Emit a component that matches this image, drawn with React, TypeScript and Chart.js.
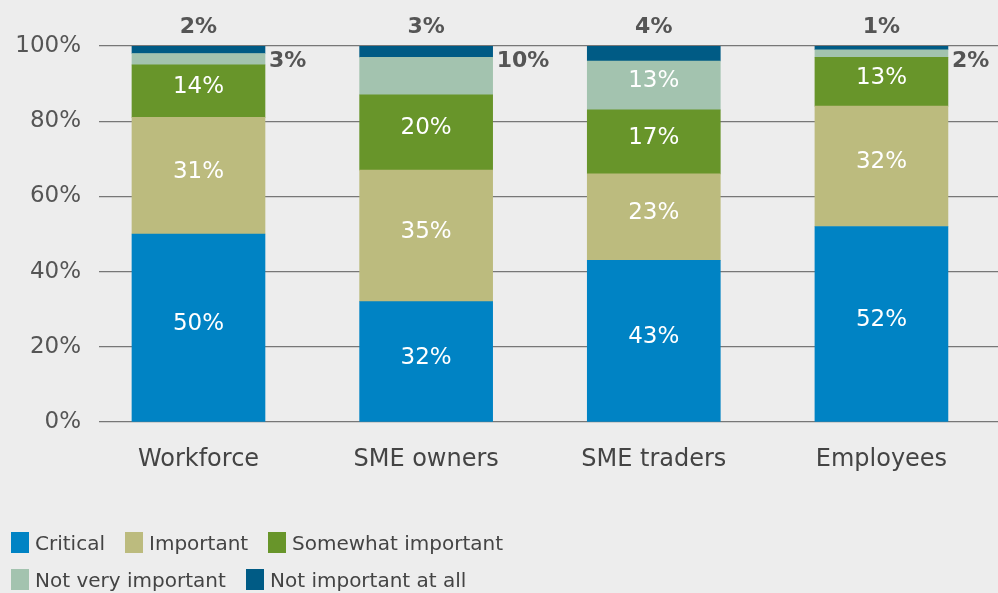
import React, { useEffect, useRef } from "react";
import { Chart, registerables } from "chart.js";

Chart.register(...registerables);

const categories = ["Workforce", "SME owners", "SME traders", "Employees"];
const seriesNames = [
  "Critical",
  "Important",
  "Somewhat important",
  "Not very important",
  "Not important at all",
];
const critical = [50, 32, 43, 52];
const important = [31, 35, 23, 32];
const somewhat = [14, 20, 17, 13];
const notVery = [3, 10, 13, 2];
const notAtAll = [2, 3, 4, 1];
const yTicks = [0, 20, 40, 60, 80, 100];

const series = [critical, important, somewhat, notVery, notAtAll];
const colors = ["#0083c4", "#bcbb7e", "#68952a", "#a3c3af", "#005b85"];
const FONT = "'DejaVu Sans', sans-serif";
const GRAY = "#555555";

const labelPlugin = {
  id: "segLabels",
  afterDatasetsDraw(chart: any) {
    const ctx = chart.ctx;
    const yScale = chart.scales.y;
    ctx.save();
    chart.data.datasets.forEach((_ds: any, di: number) => {
      const meta = chart.getDatasetMeta(di);
      meta.data.forEach((bar: any, i: number) => {
        const v = series[di][i];
        const p = bar.getProps(["x", "y", "base", "width"], true);
        const text = v + "%";
        let mode = "inside";
        if (di === 4) mode = "top";
        else if (di === 3 && v <= 10) mode = "right";
        ctx.textBaseline = "middle";
        if (mode === "inside") {
          ctx.fillStyle = "#ffffff";
          ctx.font = `normal 23px ${FONT}`;
          ctx.textAlign = "center";
          ctx.fillText(text, p.x, (p.y + p.base) / 2 - 4);
        } else if (mode === "right") {
          ctx.fillStyle = GRAY;
          ctx.font = `bold 22px ${FONT}`;
          ctx.textAlign = "left";
          ctx.fillText(text, p.x + p.width / 2 + 4, yScale.getPixelForValue(96));
        } else {
          ctx.fillStyle = GRAY;
          ctx.font = `bold 22px ${FONT}`;
          ctx.textAlign = "center";
          ctx.fillText(text, p.x, p.y - 19);
        }
      });
    });
    ctx.restore();
  },
};

const legendPos = [
  [11, 0],
  [125, 0],
  [268, 0],
  [11, 1],
  [246, 1],
];

export default function App() {
  const ref = useRef<HTMLCanvasElement | null>(null);

  useEffect(() => {
    document.body.style.margin = "0";
    document.body.style.background = "#ededed";
    if (!ref.current) return;
    const chart = new Chart(ref.current, {
      type: "bar",
      data: {
        datasets: series.map((vals, di) => ({
          label: seriesNames[di],
          data: vals.map((v, i) => ({ x: i, y: v })),
          backgroundColor: colors[di],
          borderWidth: 0,
          barThickness: 133,
        })),
      },
      options: {
        animation: false,
        responsive: false,
        maintainAspectRatio: false,
        layout: { padding: { top: 46, bottom: 111, left: 0, right: 0 } },
        plugins: {
          legend: { display: false },
          tooltip: { enabled: false },
        },
        scales: {
          x: {
            type: "linear",
            stacked: true,
            offset: false,
            min: -0.437,
            max: 3.512,
            grid: { display: false },
            border: { display: false },
            afterFit: (s: any) => {
              s.height = 60;
            },
            ticks: {
              stepSize: 1,
              includeBounds: false,
              autoSkip: false,
              maxRotation: 0,
              padding: 15,
              color: "#444444",
              font: { family: FONT, size: 24 },
              callback: (v: any) =>
                Number.isInteger(v) && categories[v] ? categories[v] : "",
            },
          },
          y: {
            stacked: true,
            min: 0,
            max: 100,
            afterFit: (s: any) => {
              s.width = 99;
            },
            afterBuildTicks: (s: any) => {
              s.ticks = yTicks.map((v) => ({ value: v }));
            },
            grid: { color: "#777777", lineWidth: 1.2, drawTicks: false },
            border: { display: false },
            ticks: {
              padding: 18,
              color: GRAY,
              font: { family: FONT, size: 23 },
              callback: (v: any) => v + "%",
            },
          },
        },
      },
      plugins: [labelPlugin],
    });
    return () => chart.destroy();
  }, []);

  return (
    <div
      style={{
        position: "fixed",
        left: 0,
        top: 0,
        width: 998,
        height: 593,
        background: "#ededed",
        overflow: "hidden",
      }}
    >
      <canvas
        ref={ref}
        width={998}
        height={593}
        style={{ position: "absolute", left: 0, top: 0, width: 998, height: 593 }}
      />
      {seriesNames.map((name, di) => (
        <div
          key={di}
          style={{
            position: "absolute",
            left: legendPos[di][0],
            top: 532 + legendPos[di][1] * 37,
            height: 21,
            display: "flex",
            alignItems: "center",
            fontFamily: FONT,
            fontSize: 20,
            color: "#444444",
            whiteSpace: "nowrap",
          }}
        >
          <span
            style={{
              display: "inline-block",
              width: 18,
              height: 21,
              background: colors[di],
              marginRight: 6,
              flex: "none",
            }}
          />
          <span>{name}</span>
        </div>
      ))}
    </div>
  );
}
